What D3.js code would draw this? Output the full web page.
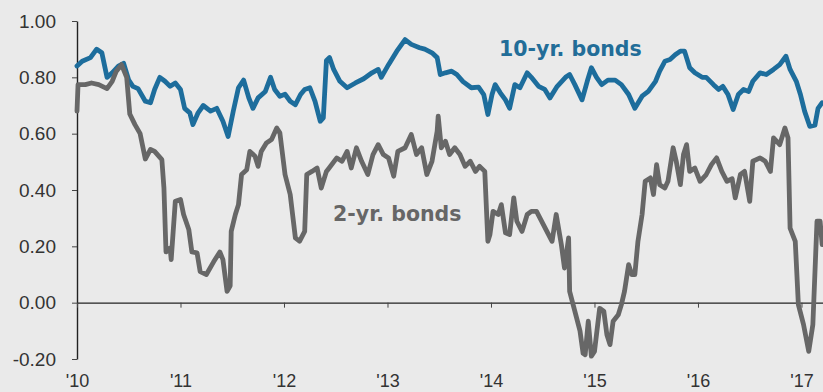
<!DOCTYPE html>
<html>
<head>
<meta charset="utf-8">
<script src="https://cdn.jsdelivr.net/npm/d3@7"></script>
<style>
  html, body { margin: 0; padding: 0; background: #eaeaea; }
  svg { display: block; }
</style>
</head>
<body>
<svg id="chart" width="823" height="392"></svg>
<script>
// Correlation of 10-year and 2-year bond yields, weekly readings (decimal years)
const tenYrDates = [
  2010.00, 2010.05, 2010.13, 2010.19, 2010.24, 2010.29, 2010.34, 2010.40, 2010.45, 2010.50,
  2010.54, 2010.59, 2010.66, 2010.71, 2010.75, 2010.80, 2010.85, 2010.90, 2010.95, 2011.00,
  2011.04, 2011.09, 2011.12, 2011.17, 2011.22, 2011.29, 2011.35, 2011.41, 2011.46, 2011.51,
  2011.56, 2011.61, 2011.66, 2011.70, 2011.75, 2011.82, 2011.87, 2011.91, 2011.96, 2012.01,
  2012.06, 2012.11, 2012.16, 2012.20, 2012.25, 2012.30, 2012.35, 2012.38, 2012.41, 2012.44,
  2012.48, 2012.54, 2012.61, 2012.69, 2012.77, 2012.85, 2012.91, 2012.94, 2013.01, 2013.09,
  2013.17, 2013.23, 2013.31, 2013.36, 2013.43, 2013.48, 2013.51, 2013.56, 2013.62, 2013.67,
  2013.73, 2013.81, 2013.88, 2013.93, 2013.97, 2014.01, 2014.04, 2014.09, 2014.14, 2014.18,
  2014.23, 2014.28, 2014.35, 2014.39, 2014.46, 2014.52, 2014.57, 2014.64, 2014.72, 2014.76,
  2014.81, 2014.88, 2014.93, 2014.97, 2015.02, 2015.07, 2015.13, 2015.20, 2015.26, 2015.33,
  2015.39, 2015.46, 2015.52, 2015.59, 2015.63, 2015.68, 2015.73, 2015.78, 2015.83, 2015.87,
  2015.92, 2015.97, 2016.04, 2016.08, 2016.15, 2016.20, 2016.24, 2016.29, 2016.34, 2016.39,
  2016.44, 2016.49, 2016.53, 2016.60, 2016.66, 2016.73, 2016.79, 2016.85, 2016.89, 2016.95,
  2016.99, 2017.03, 2017.08, 2017.13, 2017.16, 2017.20
];
const tenYrValues = [
  0.84, 0.857, 0.87, 0.90, 0.887, 0.80, 0.816, 0.84, 0.85, 0.79,
  0.768, 0.76, 0.715, 0.71, 0.757, 0.80, 0.786, 0.768, 0.78, 0.757,
  0.69, 0.674, 0.632, 0.674, 0.70, 0.68, 0.69, 0.644, 0.59, 0.68,
  0.763, 0.79, 0.727, 0.69, 0.727, 0.75, 0.80, 0.757, 0.733, 0.74,
  0.715, 0.703, 0.739, 0.757, 0.763, 0.715, 0.644, 0.656, 0.86, 0.87,
  0.828, 0.786, 0.763, 0.78, 0.795, 0.816, 0.828, 0.80, 0.845, 0.893,
  0.934, 0.917, 0.905, 0.90, 0.887, 0.87, 0.81, 0.816, 0.822, 0.81,
  0.785, 0.763, 0.765, 0.739, 0.668, 0.739, 0.774, 0.745, 0.72, 0.69,
  0.774, 0.763, 0.816, 0.80, 0.768, 0.757, 0.727, 0.768, 0.80, 0.81,
  0.774, 0.72, 0.786, 0.834, 0.80, 0.774, 0.79, 0.79, 0.774, 0.739,
  0.69, 0.733, 0.75, 0.786, 0.822, 0.857, 0.863, 0.88, 0.893, 0.893,
  0.834, 0.816, 0.80, 0.80, 0.774, 0.757, 0.768, 0.739, 0.686, 0.739,
  0.757, 0.75, 0.786, 0.816, 0.81, 0.828, 0.845, 0.875, 0.828, 0.786,
  0.739, 0.68, 0.626, 0.63, 0.69, 0.71
];

const twoYrDates = [
  2010.00, 2010.01, 2010.08, 2010.14, 2010.21, 2010.29, 2010.34, 2010.38, 2010.43, 2010.48,
  2010.51, 2010.56, 2010.61, 2010.66, 2010.71, 2010.75, 2010.82, 2010.84, 2010.86, 2010.90,
  2010.91, 2010.95, 2011.00, 2011.03, 2011.08, 2011.11, 2011.16, 2011.19, 2011.25, 2011.32,
  2011.38, 2011.41, 2011.45, 2011.48, 2011.49, 2011.53, 2011.56, 2011.59, 2011.64, 2011.67,
  2011.72, 2011.75, 2011.78, 2011.83, 2011.88, 2011.93, 2011.96, 2012.01, 2012.06, 2012.11,
  2012.15, 2012.20, 2012.22, 2012.27, 2012.32, 2012.36, 2012.41, 2012.44, 2012.51, 2012.56,
  2012.61, 2012.65, 2012.70, 2012.75, 2012.81, 2012.86, 2012.91, 2012.96, 2013.01, 2013.06,
  2013.10, 2013.17, 2013.23, 2013.28, 2013.33, 2013.38, 2013.43, 2013.48, 2013.49, 2013.52,
  2013.56, 2013.60, 2013.65, 2013.70, 2013.75, 2013.80, 2013.85, 2013.89, 2013.94, 2013.97,
  2013.99, 2014.02, 2014.07, 2014.10, 2014.14, 2014.18, 2014.22, 2014.25, 2014.30, 2014.35,
  2014.39, 2014.44, 2014.49, 2014.54, 2014.59, 2014.63, 2014.68, 2014.71, 2014.75, 2014.76,
  2014.81, 2014.86, 2014.89, 2014.91, 2014.94, 2014.97, 2015.00, 2015.05, 2015.09, 2015.12,
  2015.15, 2015.18, 2015.23, 2015.26, 2015.29, 2015.33, 2015.36, 2015.39, 2015.42, 2015.46,
  2015.49, 2015.54, 2015.57, 2015.60, 2015.63, 2015.68, 2015.71, 2015.76, 2015.79, 2015.83,
  2015.86, 2015.89, 2015.92, 2015.97, 2016.02, 2016.08, 2016.13, 2016.18, 2016.23, 2016.28,
  2016.33, 2016.36, 2016.41, 2016.45, 2016.50, 2016.53, 2016.60, 2016.65, 2016.70, 2016.73,
  2016.79, 2016.84, 2016.87, 2016.89, 2016.94, 2016.97, 2017.02, 2017.07, 2017.11, 2017.15,
  2017.18, 2017.20
];
const twoYrValues = [
  0.68, 0.774, 0.774, 0.78, 0.774, 0.76, 0.786, 0.822, 0.845, 0.80,
  0.67, 0.632, 0.60, 0.51, 0.544, 0.537, 0.508, 0.407, 0.18, 0.194,
  0.153, 0.36, 0.366, 0.313, 0.26, 0.18, 0.177, 0.11, 0.10, 0.145,
  0.18, 0.153, 0.04, 0.06, 0.253, 0.313, 0.348, 0.455, 0.472, 0.537,
  0.52, 0.484, 0.537, 0.567, 0.579, 0.62, 0.603, 0.455, 0.384, 0.23,
  0.218, 0.253, 0.455, 0.466, 0.478, 0.407, 0.466, 0.48, 0.514, 0.502,
  0.537, 0.478, 0.55, 0.502, 0.455, 0.526, 0.561, 0.526, 0.514, 0.449,
  0.537, 0.55, 0.597, 0.526, 0.55, 0.455, 0.502, 0.609, 0.662, 0.55,
  0.573, 0.526, 0.55, 0.526, 0.484, 0.502, 0.466, 0.484, 0.466, 0.218,
  0.242, 0.324, 0.313, 0.348, 0.248, 0.242, 0.372, 0.289, 0.253, 0.313,
  0.324, 0.324, 0.289, 0.253, 0.218, 0.313, 0.206, 0.123, 0.23, 0.04,
  -0.03, -0.10, -0.18, -0.185, -0.066, -0.19, -0.173, -0.02, -0.03, -0.114,
  -0.149, -0.066, -0.043, -0.007, 0.04, 0.135, 0.10, 0.10, 0.218, 0.313,
  0.431, 0.443, 0.384, 0.49, 0.419, 0.407, 0.431, 0.55, 0.502, 0.419,
  0.526, 0.561, 0.466, 0.478, 0.431, 0.455, 0.49, 0.514, 0.466, 0.431,
  0.44, 0.372, 0.455, 0.466, 0.36, 0.502, 0.514, 0.502, 0.466, 0.585,
  0.561, 0.62, 0.585, 0.265, 0.218, -0.007, -0.078, -0.173, -0.078, 0.289,
  0.289, 0.206
];

const yearTicks = [2010, 2011, 2012, 2013, 2014, 2015, 2016, 2017];
const valueTicks = [-0.2, 0, 0.2, 0.4, 0.6, 0.8, 1.0];
const seriesLabels = ["10-yr. bonds", "2-yr. bonds"];

const svg = d3.select("#chart");
const W = 823, H = 392;
const plotLeft = 77, plotRight = 823, plotTop = 21, plotBottom = 359;

svg.append("rect").attr("width", W).attr("height", H).attr("fill", "#eaeaea");

const x = d3.scaleLinear().domain([2010, 2017.208]).range([plotLeft, plotRight]);
const y = d3.scaleLinear().domain([-0.2, 1.0]).range([plotBottom, plotTop]);

// Left value axis
const yAxis = svg.append("g")
  .attr("transform", `translate(${plotLeft},0)`)
  .call(d3.axisLeft(y).tickValues(valueTicks).tickSize(5).tickSizeOuter(0)
    .tickPadding(16).tickFormat(d => d.toFixed(2)));
yAxis.select(".domain").attr("stroke", "#222").attr("stroke-width", 1.4);
yAxis.selectAll(".tick line").attr("stroke", "#444").attr("stroke-width", 1);
yAxis.selectAll(".tick text")
  .attr("fill", "#333")
  .style("font-family", "'Liberation Sans', Arial, sans-serif")
  .style("font-size", "19px");

// Zero line with year ticks hanging below it
const zeroAxis = svg.append("g")
  .attr("transform", `translate(0,${y(0)})`)
  .call(d3.axisBottom(x).tickValues(yearTicks).tickSize(5).tickSizeOuter(0).tickFormat(""));
zeroAxis.select(".domain").attr("stroke", "#222").attr("stroke-width", 1.4);
zeroAxis.selectAll(".tick line").attr("stroke", "#444").attr("stroke-width", 1);

// Year labels along the bottom edge
const yearAxis = svg.append("g")
  .call(d3.axisBottom(x).tickValues(yearTicks).tickSize(0)
    .tickFormat(d => "'" + String(d).slice(2)));
yearAxis.select(".domain").remove();
yearAxis.selectAll(".tick text")
  .attr("y", 387).attr("dy", 0)
  .attr("fill", "#333")
  .style("font-family", "'Liberation Sans', Arial, sans-serif")
  .style("font-size", "18px");

// Series lines
const line = d3.line()
  .x(d => x(d[0]))
  .y(d => y(d[1]));

const tenYr = tenYrDates.map((t, i) => [t, tenYrValues[i]]);
const twoYr = twoYrDates.map((t, i) => [t, twoYrValues[i]]);

svg.append("path")
  .datum(tenYr)
  .attr("d", line)
  .attr("fill", "none")
  .attr("stroke", "#1d6d9c")
  .attr("stroke-width", 4.8)
  .attr("stroke-linejoin", "round")
  .attr("stroke-linecap", "round");

svg.append("path")
  .datum(twoYr)
  .attr("d", line)
  .attr("fill", "none")
  .attr("stroke", "#676767")
  .attr("stroke-width", 4.8)
  .attr("stroke-linejoin", "round")
  .attr("stroke-linecap", "round");

// Series labels
svg.append("text")
  .attr("x", 499).attr("y", 56)
  .attr("fill", "#226d98")
  .style("font-family", "'DejaVu Sans', Verdana, sans-serif")
  .style("font-weight", "bold")
  .style("font-size", "20.5px")
  .text(seriesLabels[0]);

svg.append("text")
  .attr("x", 333).attr("y", 221)
  .attr("fill", "#666666")
  .style("font-family", "'DejaVu Sans', Verdana, sans-serif")
  .style("font-weight", "bold")
  .style("font-size", "20.5px")
  .text(seriesLabels[1]);
</script>
</body>
</html>
